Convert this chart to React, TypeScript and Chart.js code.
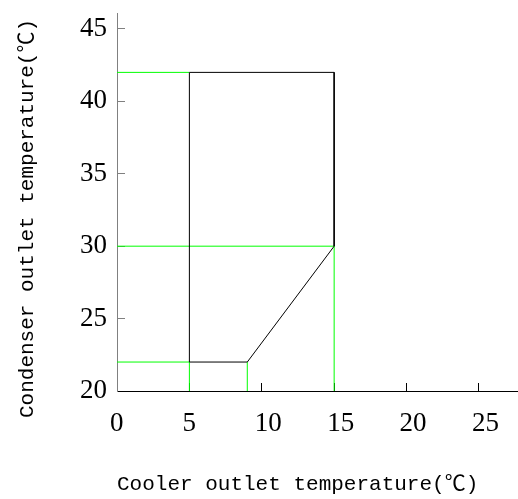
import React, { useEffect, useRef } from "react";
import { Chart, registerables } from "chart.js";

Chart.register(...registerables);

// Axis ranges and ticks
const xMin = 0;
const xMax = 27.7;
const yMin = 20;
const yMax = 46.1;
const xTickValues = [0, 5, 10, 15, 20, 25];
const yTickValues = [20, 25, 30, 35, 40, 45];

// Operating envelope (black outline)
const envelopeX = [5, 5, 15, 15, 9, 5];
const envelopeY = [22, 42, 42, 30, 22, 22];

// Green guide lines: horizontal from the y axis, vertical from the x axis
const hGuideY = [42, 30, 22];
const hGuideXEnd = [5, 15, 5];
const vGuideX = [5, 9, 15];
const vGuideYEnd = [22, 22, 30];

const xTitle = "Cooler outlet temperature(℃)";
const yTitle = "Condenser outlet temperature(℃)";

const GREEN = "#00ff00";

const titlePlugin = {
  id: "axisTitles",
  afterDraw(chart: any) {
    const ctx = chart.ctx;
    const area = chart.chartArea;
    ctx.save();
    ctx.fillStyle = "#000";
    ctx.font = '21px "Liberation Mono", "Noto Sans CJK SC", monospace';
    ctx.textAlign = "left";
    ctx.textBaseline = "alphabetic";
    ctx.fillText(xTitle, area.left, 490);
    ctx.translate(33, 418);
    ctx.rotate(-Math.PI / 2);
    ctx.fillText(yTitle, 0, 0);
    ctx.restore();
  },
};

export default function App() {
  const canvasRef = useRef<HTMLCanvasElement | null>(null);

  useEffect(() => {
    if (!canvasRef.current) return;
    const datasets: any[] = [];
    hGuideY.forEach((y, i) => {
      datasets.push({
        data: [
          { x: xMin, y },
          { x: hGuideXEnd[i], y },
        ],
        borderColor: GREEN,
        borderWidth: 1,
        pointRadius: 0,
        order: 2,
      });
    });
    vGuideX.forEach((x, i) => {
      datasets.push({
        data: [
          { x, y: yMin },
          { x, y: vGuideYEnd[i] },
        ],
        borderColor: GREEN,
        borderWidth: 1,
        pointRadius: 0,
        order: 2,
      });
    });
    datasets.push({
      data: envelopeX.map((x, i) => ({ x, y: envelopeY[i] })),
      borderColor: "#000",
      borderWidth: 1,
      pointRadius: 0,
      order: 1,
    });

    const tickFont = { family: '"Liberation Serif", serif', size: 27 };

    const chart = new Chart(canvasRef.current, {
      type: "line",
      data: { datasets },
      options: {
        responsive: false,
        maintainAspectRatio: false,
        animation: false,
        layout: { padding: { top: 13, left: 0, right: 0, bottom: 0 } },
        plugins: {
          legend: { display: false },
          tooltip: { enabled: false },
        },
        elements: { line: { tension: 0 } },
        scales: {
          x: {
            type: "linear",
            position: "bottom",
            min: xMin,
            max: xMax,
            z: 1,
            afterBuildTicks: (s: any) => {
              s.ticks = xTickValues.map((v) => ({ value: v }));
            },
            afterFit: (s: any) => {
              s.height = 108;
              s.paddingLeft = 0;
              s.paddingRight = 0;
            },
            border: { display: true, color: "#000", width: 1 },
            grid: {
              drawOnChartArea: false,
              drawTicks: true,
              tickLength: -8,
              color: "#000",
              lineWidth: 1,
            },
            ticks: {
              align: "start",
              labelOffset: -7,
              padding: 25,
              font: tickFont,
              color: "#000",
              maxRotation: 0,
              autoSkip: false,
            },
          },
          y: {
            type: "linear",
            position: "left",
            min: yMin,
            max: yMax,
            z: 1,
            afterBuildTicks: (s: any) => {
              s.ticks = yTickValues.map((v) => ({ value: v }));
            },
            afterFit: (s: any) => {
              s.width = 117;
              s.paddingTop = 0;
              s.paddingBottom = 0;
            },
            border: { display: true, color: "#808080", width: 1 },
            grid: {
              drawOnChartArea: false,
              drawTicks: true,
              tickLength: -8,
              color: "#808080",
              lineWidth: 1,
            },
            ticks: {
              padding: 18,
              font: tickFont,
              color: "#000",
              autoSkip: false,
            },
          },
        },
      } as any,
      plugins: [titlePlugin],
    });
    return () => chart.destroy();
  }, []);

  return (
    <div style={{ position: "absolute", left: 0, top: 0, width: 518, height: 499 }}>
      <canvas ref={canvasRef} width={518} height={499} />
    </div>
  );
}
